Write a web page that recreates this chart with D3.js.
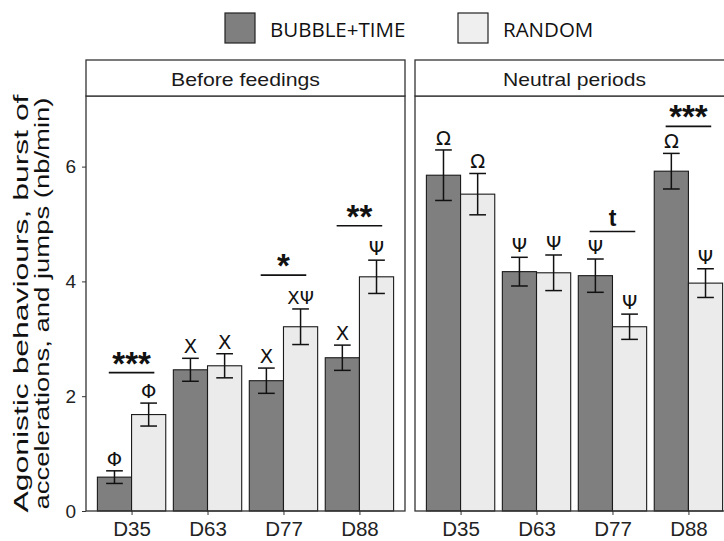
<!DOCTYPE html>
<html>
<head>
<meta charset="utf-8">
<script src="https://cdn.jsdelivr.net/npm/d3@7"></script>
<style>
  body { margin: 0; background: #fff; }
  svg { display: block; }
</style>
</head>
<body>
<svg class="chart" width="724" height="541"></svg>
<script>
// data
var categories = ["D35", "D63", "D77", "D88"];
var panelNames = ["Before feedings", "Neutral periods"];
var groups = ["BUBBLE+TIME", "RANDOM"];
var yTicks = [0, 2, 4, 6];

var beforeBubble   = [0.59, 2.46, 2.27, 2.67];
var beforeBubbleSE = [0.11, 0.20, 0.22, 0.22];
var beforeRandom   = [1.68, 2.53, 3.21, 4.08];
var beforeRandomSE = [0.20, 0.21, 0.31, 0.29];

var neutralBubble   = [5.85, 4.17, 4.10, 5.92];
var neutralBubbleSE = [0.44, 0.25, 0.29, 0.31];
var neutralRandom   = [5.52, 4.15, 3.21, 3.97];
var neutralRandomSE = [0.36, 0.31, 0.22, 0.25];

var beforeBubbleLetters  = ["Φ", "X", "X", "X"];
var beforeRandomLetters  = ["Φ", "X", "XΨ", "Ψ"];
var neutralBubbleLetters = ["Ω", "Ψ", "Ψ", "Ω"];
var neutralRandomLetters = ["Ω", "Ψ", "Ψ", "Ψ"];

// [category, label, height of the bar line]
var beforeSig  = [["D35", "***", 2.41], ["D77", "*", 4.11], ["D88", "**", 4.97]];
var neutralSig = [["D77", "t", 4.87], ["D88", "***", 6.70]];

var svg = d3.select("svg.chart");
var font = "'Liberation Sans', Arial, sans-serif";

var darkFill = "#7f7f7f", lightFill = "#ebebeb";
var panelW = 319, panelTop = 96, panelBottom = 511, stripTop = 60;
var panelX = [86, 415];

var y = d3.scaleLinear().domain([0, 7.23]).range([panelBottom, panelTop]);

var panels = [
  { name: panelNames[0], bubble: beforeBubble, bubbleSE: beforeBubbleSE, random: beforeRandom, randomSE: beforeRandomSE,
    bL: beforeBubbleLetters, rL: beforeRandomLetters, sig: beforeSig },
  { name: panelNames[1], bubble: neutralBubble, bubbleSE: neutralBubbleSE, random: neutralRandom, randomSE: neutralRandomSE,
    bL: neutralBubbleLetters, rL: neutralRandomLetters, sig: neutralSig }
];

panels.forEach(function(p, pi) {
  var x0 = panelX[pi];
  var x = d3.scalePoint().domain(categories).range([x0, x0 + panelW]).padding(0.6);
  var step = x.step();
  var bw = step * 0.45;
  var g = svg.append("g");

  // bars: one row per category and group
  var rows = [];
  categories.forEach(function(c, i) {
    rows.push({ c: c, v: p.bubble[i], se: p.bubbleSE[i], lab: p.bL[i], fill: darkFill, off: -bw });
    rows.push({ c: c, v: p.random[i], se: p.randomSE[i], lab: p.rL[i], fill: lightFill, off: 0 });
  });

  g.selectAll("rect.bar").data(rows).enter().append("rect")
    .attr("class", "bar")
    .attr("x", function(d) { return x(d.c) + d.off; })
    .attr("y", function(d) { return y(d.v); })
    .attr("width", bw)
    .attr("height", function(d) { return y(0) - y(d.v); })
    .attr("fill", function(d) { return d.fill; })
    .attr("stroke", "#1a1a1a")
    .attr("stroke-width", 1.1);

  // error bars
  var cap = step * 0.11;
  var eb = g.selectAll("g.err").data(rows).enter().append("g").attr("class", "err")
    .attr("stroke", "#111").attr("stroke-width", 1.5);
  eb.append("line")
    .attr("x1", function(d) { return x(d.c) + d.off + bw / 2; })
    .attr("x2", function(d) { return x(d.c) + d.off + bw / 2; })
    .attr("y1", function(d) { return y(d.v - d.se); })
    .attr("y2", function(d) { return y(d.v + d.se); });
  [-1, 1].forEach(function(s) {
    eb.append("line")
      .attr("x1", function(d) { return x(d.c) + d.off + bw / 2 - cap; })
      .attr("x2", function(d) { return x(d.c) + d.off + bw / 2 + cap; })
      .attr("y1", function(d) { return y(d.v + s * d.se); })
      .attr("y2", function(d) { return y(d.v + s * d.se); });
  });

  // letters above the error bars (greek glyphs from DejaVu, they are bigger)
  g.selectAll("text.letter").data(rows).enter().append("text")
    .attr("class", "letter")
    .attr("x", function(d) { return x(d.c) + d.off + bw / 2; })
    .attr("y", function(d) { return y(d.v + d.se) - 5; })
    .attr("text-anchor", "middle")
    .attr("font-family", "'DejaVu Sans', sans-serif")
    .attr("font-size", function(d) { return d.lab.length > 1 ? 18 : 19.5; })
    .attr("fill", "#111")
    .text(function(d) { return d.lab; });

  // significance lines and stars
  var sg = g.selectAll("g.sig").data(p.sig).enter().append("g").attr("class", "sig");
  sg.append("line")
    .attr("x1", function(d) { return x(d[0]) - step * 0.3; })
    .attr("x2", function(d) { return x(d[0]) + step * 0.3; })
    .attr("y1", function(d) { return y(d[2]); })
    .attr("y2", function(d) { return y(d[2]); })
    .attr("stroke", "#111").attr("stroke-width", 1.6);
  sg.append("text")
    .attr("x", function(d) { return x(d[0]); })
    .attr("y", function(d) { return d[1] == "t" ? y(d[2]) - 5 : y(d[2]) + 2; })
    .attr("text-anchor", "middle")
    .attr("font-family", font)
    .attr("font-weight", "bold")
    .attr("font-size", function(d) { return d[1] == "t" ? 23 : 33; })
    .attr("fill", "#111")
    .text(function(d) { return d[1]; });

  // panel border
  g.append("rect")
    .attr("x", x0).attr("y", panelTop)
    .attr("width", panelW).attr("height", panelBottom - panelTop)
    .attr("fill", "none").attr("stroke", "#333").attr("stroke-width", 1.3);

  // strip
  g.append("rect")
    .attr("x", x0).attr("y", stripTop)
    .attr("width", panelW).attr("height", panelTop - stripTop)
    .attr("fill", "#fff").attr("stroke", "#333").attr("stroke-width", 1.3);
  g.append("text")
    .attr("x", x0 + panelW / 2).attr("y", 86)
    .attr("text-anchor", "middle")
    .attr("font-family", font).attr("font-size", 18.5)
    .attr("textLength", pi == 0 ? 149 : 143).attr("lengthAdjust", "spacingAndGlyphs")
    .attr("fill", "#1a1a1a")
    .text(p.name);

  // x axis
  var xAxis = svg.append("g")
    .attr("transform", "translate(0," + panelBottom + ")")
    .call(d3.axisBottom(x).tickSize(4).tickPadding(6));
  xAxis.select(".domain").remove();
  xAxis.selectAll("line").attr("stroke", "#333");
  xAxis.selectAll("text").attr("font-family", font).attr("font-size", 20.5).attr("fill", "#222");
});

// y axis on the first panel
var yAxis = svg.append("g")
  .attr("transform", "translate(" + panelX[0] + ",0)")
  .call(d3.axisLeft(y).tickValues(yTicks).tickSize(4).tickPadding(6));
yAxis.select(".domain").remove();
yAxis.selectAll("line").attr("stroke", "#333");
yAxis.selectAll("text").attr("font-family", font).attr("font-size", 19).attr("fill", "#222");

// y title, two lines
var midY = (panelTop + panelBottom) / 2;
var titleLines = ["Agonistic behaviours, burst of", "accelerations, and jumps (nb/min)"];
svg.selectAll("text.ytitle").data(titleLines).enter().append("text")
  .attr("class", "ytitle")
  .attr("transform", function(d, i) { return "translate(" + (27.5 + i * 21.5) + "," + midY + ") rotate(-90)"; })
  .attr("text-anchor", "middle")
  .attr("font-family", font).attr("font-size", 20.5)
  .attr("textLength", function(d, i) { return i == 0 ? 418 : 412; })
  .attr("lengthAdjust", "spacingAndGlyphs")
  .attr("fill", "#111")
  .text(function(d) { return d; });

// legend
var legX = [225, 458];
var leg = svg.selectAll("g.legend").data(groups).enter().append("g").attr("class", "legend")
  .attr("transform", function(d, i) { return "translate(" + legX[i] + ",13)"; });
leg.append("rect")
  .attr("width", 30).attr("height", 30)
  .attr("fill", function(d, i) { return i == 0 ? darkFill : "#efefef"; })
  .attr("stroke", "#222").attr("stroke-width", 1.2);
leg.append("text")
  .attr("x", 45).attr("y", 24)
  .attr("font-family", "'Open Sans', sans-serif").attr("font-size", 20.5)
  .attr("fill", "#111")
  .text(function(d) { return d; });
</script>
</body>
</html>
